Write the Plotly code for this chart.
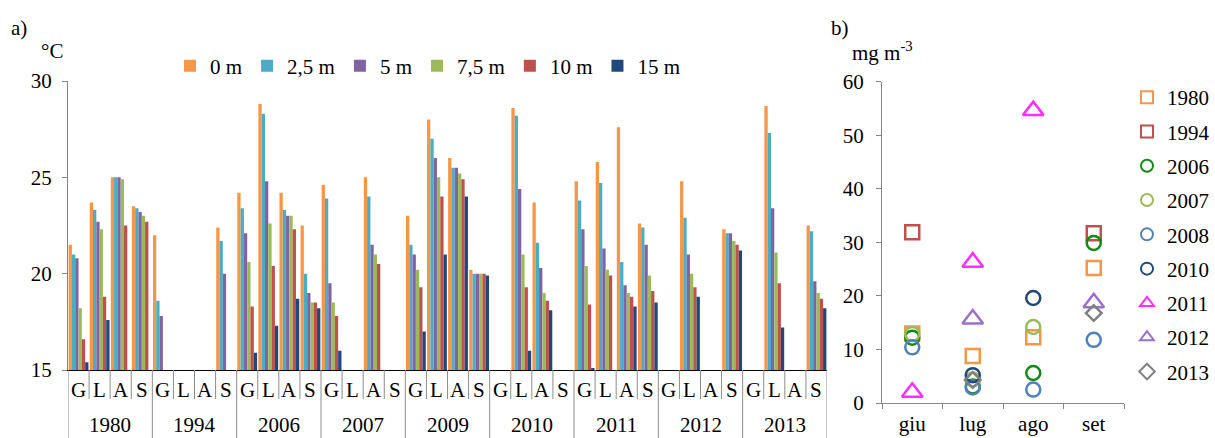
import plotly.graph_objects as go

# ---------------- panel a: water temperature by depth ----------------
years_a = ["1980", "1994", "2006", "2007", "2009", "2010", "2011", "2012", "2013"]
months_a = ["G", "L", "A", "S"]
depths = ["0 m", "2,5 m", "5 m", "7,5 m", "10 m", "15 m"]
depth_colors = ["#F79646", "#4BACC6", "#8064A2", "#9BBB59", "#C0504D", "#1F497D"]

N = None
t_0m = [21.5, 23.7, 25.0, 23.5,  22.0, N, N, 22.4,  24.2, 28.8, 24.2, 22.5,
        24.6, N, 25.0, N,  23.0, 28.0, 26.0, 20.2,  N, 28.6, 23.7, N,
        24.8, 25.8, 27.6, 22.6,  N, 24.8, N, 22.3,  N, 28.7, N, 22.5]
t_2_5m = [21.0, 23.3, 25.0, 23.4,  18.6, N, N, 21.7,  23.4, 28.3, 23.3, 20.0,
          23.9, N, 24.0, N,  21.5, 27.0, 25.5, 20.0,  N, 28.2, 21.6, N,
          23.8, 24.7, 20.6, 22.4,  N, 22.9, N, 22.1,  N, 27.3, N, 22.2]
t_5m = [20.8, 22.7, 25.0, 23.2,  17.8, N, N, 20.0,  22.1, 24.8, 23.0, 19.0,
        19.5, N, 21.5, N,  21.0, 26.0, 25.5, 20.0,  N, 24.4, 20.3, N,
        22.3, 21.3, 19.4, 21.5,  N, 21.0, N, 22.1,  N, 23.4, N, 19.6]
t_7_5m = [18.2, 22.3, 24.9, 23.0,  N, N, N, N,  20.6, 22.6, 23.0, 18.5,
          18.5, N, 21.0, N,  20.2, 25.0, 25.2, 20.0,  N, 21.0, 19.0, N,
          20.4, 20.2, 19.0, 19.9,  N, 20.0, N, 21.7,  N, 21.1, N, 19.0]
t_10m = [16.6, 18.8, 22.5, 22.7,  N, N, N, N,  18.3, 20.4, 22.3, 18.5,
         17.8, N, 20.5, N,  19.3, 24.0, 24.9, 20.0,  N, 19.3, 18.6, N,
         18.4, 19.9, 18.8, 19.1,  N, 19.3, N, 21.5,  N, 19.5, N, 18.7]
t_15m = [15.4, 17.6, N, N,  N, N, N, N,  15.9, 17.3, 18.7, 18.2,
         16.0, N, N, N,  17.0, 21.0, 24.0, 19.9,  N, 16.0, 18.1, N,
         15.1, N, 18.3, 18.5,  N, 18.8, N, 21.2,  N, 17.2, N, 18.2]
temps = [t_0m, t_2_5m, t_5m, t_7_5m, t_10m, t_15m]

# ---------------- panel b: chlorophyll by month ----------------
months_b = ["giu", "lug", "ago", "set"]
years_b = ["1980", "1994", "2006", "2007", "2008", "2010", "2011", "2012", "2013"]
chl_1980 = [13.0, 8.8, 12.3, 25.2]
chl_1994 = [31.9, N, N, 31.7]
chl_2006 = [12.2, 3.1, 5.6, 29.9]
chl_2007 = [12.9, 4.4, 14.2, N]
chl_2008 = [10.4, 2.9, 2.5, 11.8]
chl_2010 = [N, 5.2, 19.6, N]
chl_2011 = [2.0, 26.3, 54.6, N]
chl_2012 = [N, 15.7, N, 18.7]
chl_2013 = [N, 4.3, N, 16.8]
chl = [chl_1980, chl_1994, chl_2006, chl_2007, chl_2008, chl_2010, chl_2011, chl_2012, chl_2013]
year_symbols = ["square-open", "square-open", "circle-open", "circle-open", "circle-open",
                "circle-open", "triangle-up-open", "triangle-up-open", "diamond-open"]
year_sizes = [14, 14, 14, 14, 14, 14, 18, 18, 12]
year_colors = ["#F79646", "#C0504D", "#118A16", "#9BBB59", "#4F81BD", "#1F497D",
               "#FF2EFF", "#9B6FCF", "#808080"]

FONT = "Liberation Serif, Times New Roman, DejaVu Serif, serif"
W, H = 1215, 438


def px_x(p):
    return p / W


def px_y(p):
    return 1 - p / H


fig = go.Figure()

cat_index = list(range(len(years_a) * len(months_a)))
for name, color, vals in zip(depths, depth_colors, temps):
    fig.add_trace(go.Bar(x=cat_index, y=vals, name=name, marker_color=color,
                         marker_line_width=0, xaxis="x", yaxis="y", legend="legend"))

for i, (yr, vals) in enumerate(zip(years_b, chl)):
    fig.add_trace(go.Scatter(
        x=months_b, y=vals, mode="markers", name=yr, legend="legend2", legendgroup=yr,
        marker=dict(symbol=year_symbols[i], size=year_sizes[i], color=year_colors[i],
                    line=dict(width=2.5, color=year_colors[i])),
        xaxis="x2", yaxis="y2"))

axis_font = dict(family=FONT, size=21, color="#000000")

# category dividers and labels below panel a
shapes = []
annotations = []
a_bottom = px_y(370)
n_cat = len(cat_index)
for b in range(n_cat + 1):
    year_edge = (b % len(months_a) == 0)
    shapes.append(dict(type="line", xref="x", yref="paper", x0=b - 0.5, x1=b - 0.5,
                       y0=a_bottom, y1=0 if year_edge else px_y(399),
                       line=dict(color="#8C8C8C", width=1)))
for i in cat_index:
    annotations.append(dict(text=months_a[i % 4], xref="x", yref="paper", x=i, y=px_y(390),
                            showarrow=False, font=axis_font, yanchor="middle"))
for k, yr in enumerate(years_a):
    annotations.append(dict(text=yr, xref="x", yref="paper", x=4 * k + 1.5, y=px_y(425),
                            showarrow=False, font=axis_font, yanchor="middle"))

# panel titles and units
for txt, x, y in [("a)", 9, 28), ("°C", 39, 51), ("b)", 829, 28), ("mg m<sup>-3</sup>", 850, 51)]:
    annotations.append(dict(text=txt, xref="paper", yref="paper", x=px_x(x), y=px_y(y),
                            xanchor="left", yanchor="middle", showarrow=False, font=axis_font))

fig.update_layout(
    width=W, height=H,
    margin=dict(l=0, r=0, t=0, b=0, autoexpand=False),
    paper_bgcolor="white", plot_bgcolor="white",
    font=axis_font,
    barmode="group", bargap=0.06, bargroupgap=0,
    xaxis=dict(domain=[px_x(68), px_x(827)], range=[-0.5, n_cat - 0.5], showticklabels=False,
               ticks="", showgrid=False, zeroline=False, showline=True, linecolor="#000000",
               linewidth=1, anchor="y", fixedrange=True),
    yaxis=dict(domain=[px_y(370), px_y(81)], range=[15, 30], tickvals=[15, 20, 25, 30],
               ticks="outside", ticklen=5, tickcolor="#868686", showline=True,
               linecolor="#868686", linewidth=1, showgrid=False, zeroline=False,
               anchor="x", ticklabelstandoff=6, tickfont=axis_font),
    xaxis2=dict(domain=[px_x(882), px_x(1124)], type="category", categoryorder="array",
                categoryarray=months_b, range=[-0.5, 3.5], tickson="boundaries",
                ticks="outside", ticklen=5, tickcolor="#868686", showline=True,
                linecolor="#868686", linewidth=1, showgrid=False, zeroline=False,
                anchor="y2", tickfont=axis_font, ticklabelstandoff=2),
    yaxis2=dict(domain=[px_y(403), px_y(81.7)], range=[0, 60], dtick=10,
                ticks="outside", ticklen=5, tickcolor="#868686", showline=True,
                linecolor="#868686", linewidth=1, showgrid=False, zeroline=False,
                anchor="x2", tickfont=axis_font, ticklabelstandoff=8),
    legend=dict(orientation="h", x=px_x(170), y=px_y(66), xanchor="left", yanchor="middle",
                bgcolor="rgba(0,0,0,0)", font=axis_font, traceorder="normal"),
    legend2=dict(orientation="v", x=px_x(1127), y=px_y(77), xanchor="left", yanchor="top",
                 bgcolor="rgba(0,0,0,0)", font=axis_font, tracegroupgap=4,
                 itemsizing="constant", traceorder="grouped"),
    shapes=shapes,
    annotations=annotations,
)

fig.write_html("out.html")
